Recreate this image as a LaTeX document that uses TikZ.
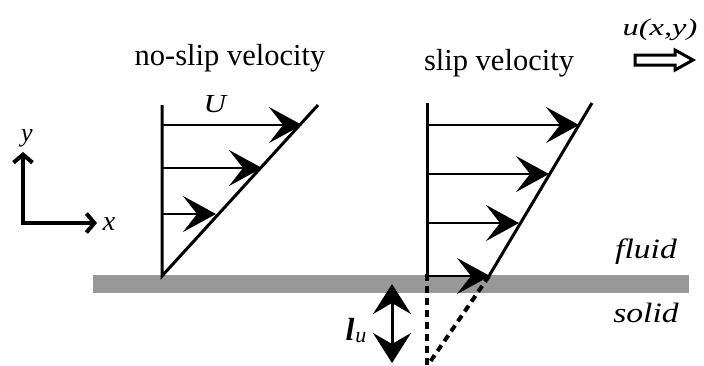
\documentclass[tikz,border=0pt]{standalone}
\usepackage{fontspec}
\setmainfont{Liberation Serif}
\usetikzlibrary{arrows.meta,calc}
\definecolor{barcol}{RGB}{152,152,152}
\begin{document}
\begin{tikzpicture}[x=1pt,y=-1pt,
  vel/.style={line width=2.4pt,-{Stealth[length=33pt,width=36pt,inset=14pt]}},
  wall/.style={line width=3pt},
  axis/.style={line width=4pt,-{Straight Barb[length=8pt,width=19pt]}},
  dashline/.style={line width=4pt,dash pattern=on 7pt off 5pt},
  gap/.style={line width=3pt,{Stealth[length=30pt,width=38pt,inset=11pt]}-{Stealth[length=30pt,width=38pt,inset=11pt]}},
  title/.style={anchor=base,inner sep=0pt,font=\fontsize{30.5}{36}\selectfont},
  lab/.style={anchor=base,inner sep=0pt}]
\useasboundingbox (0,0) rectangle (704,365);
% solid surface
\fill[barcol] (93,275) rectangle (689,293);
% axes
\coordinate (O) at (23,223);
\coordinate (Ytop) at (23,152);
\coordinate (Xend) at (97,223);
\draw[axis] ([yshift=2pt]O) -- (Ytop);
\draw[axis] ([xshift=-2pt]O) -- (Xend);
\node[lab,font=\itshape\fontsize{26}{30}\selectfont] (ylab) at (27,141) {y};
\node[lab,font=\itshape\fontsize{28}{32}\selectfont] (xlab) at (109,230) {x};
% no-slip profile
\coordinate (nsT) at (162,105);
\coordinate (nsB) at (162,276);
\coordinate (nsD) at (318,105);
\draw[wall] (nsT) -- (nsB) -- (nsD);
\coordinate (n1a) at (162,125); \coordinate (n1b) at (302,125);
\coordinate (n2a) at (162,168); \coordinate (n2b) at (262,168);
\coordinate (n3a) at (162,214); \coordinate (n3b) at (216,214);
\draw[vel] (n1a) -- (n1b);
\draw[vel] (n2a) -- (n2b);
\draw[vel] (n3a) -- (n3b);
\node[lab,font=\itshape\fontsize{26}{30}\selectfont,xscale=1.2] (U) at (215,112) {U};
\node[title] (nst) at (230,65) {no-slip velocity};
% slip profile
\coordinate (sT) at (427,103);
\coordinate (sB) at (427,276);
\coordinate (sL) at (489,276);
\coordinate (sD) at (592,103);
\draw[wall] (sT) -- (sB);
\draw[wall] (sL) -- (sD);
\coordinate (s1a) at (427,125); \coordinate (s1b) at (579,125);
\coordinate (s2a) at (427,174); \coordinate (s2b) at (549,174);
\coordinate (s3a) at (427,223); \coordinate (s3b) at (519,223);
\coordinate (s4a) at (427,276); \coordinate (s4b) at (490,276);
\draw[vel] (s1a) -- (s1b);
\draw[vel] (s2a) -- (s2b);
\draw[vel] (s3a) -- (s3b);
\draw[vel] (s4a) -- (s4b);
\node[title] (st) at (499,70) {slip velocity};
% extrapolation below the wall
\coordinate (dV) at (427,365);
\coordinate (dD) at (430,362);
\draw[dashline] ([yshift=2pt]sB) -- (dV);
\draw[dashline] (sL) -- (dD);
% slip length
\coordinate (gT) at (392,284);
\coordinate (gB) at (392,363);
\draw[gap] (gT) -- (gB);
\node[lab] (lu) at (356,340) {\fontsize{32}{36}\selectfont\bfseries\itshape l\kern1pt\raisebox{-2pt}{\fontsize{22}{26}\selectfont\mdseries u}};
% flow direction
\node[lab,font=\itshape\fontsize{24}{28}\selectfont,xscale=1.35] (uxy) at (660,35) {u(x,y)};
\coordinate (fa) at (635,55);
\draw[line width=3pt,line join=miter] (fa) -- (675,55) -- (675,50) -- (693,60) -- (675,70) -- (675,65) -- (635,65) -- cycle;
% media labels
\node[lab,font=\itshape\fontsize{28}{32}\selectfont,xscale=1.2] (fluid) at (646,258) {fluid};
\node[lab,font=\itshape\fontsize{28}{32}\selectfont,xscale=1.2] (solid) at (646,322) {solid};
\end{tikzpicture}
\end{document}
